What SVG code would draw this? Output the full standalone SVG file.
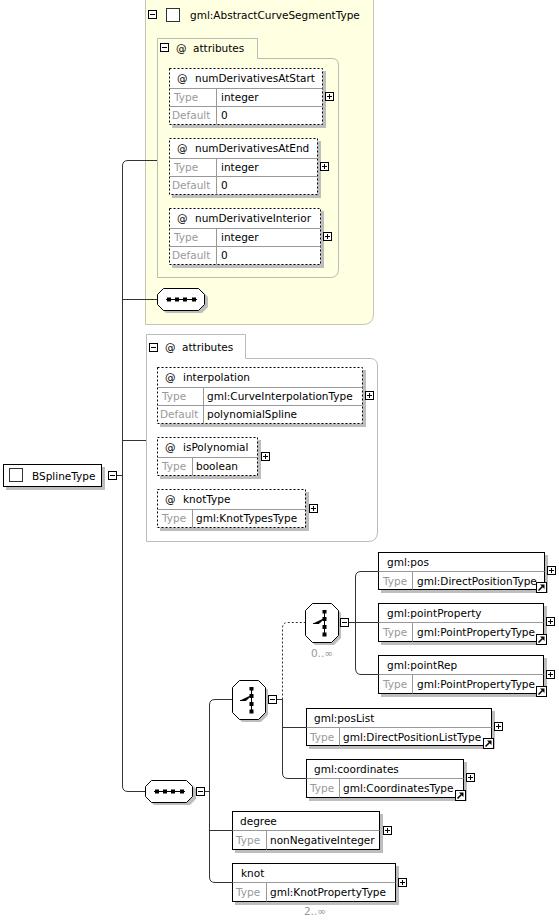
<svg xmlns="http://www.w3.org/2000/svg" width="559" height="921" viewBox="0 0 559 921">
<style>
.t{font-family:"DejaVu Sans","Liberation Sans",sans-serif;font-size:10.5px;fill:#000}
.g{fill:#999}
.box{fill:#fff;stroke:#000}
.dot{fill:#fff;stroke:#000;stroke-dasharray:2,2}
.sh{fill:#bdbdbd}
.sep{stroke:#999;fill:none}
.ln{stroke:#333;fill:none}
.dl{stroke:#333;fill:none;stroke-dasharray:2,2}
.cont{fill:none;stroke:#bbb}
</style>
<defs>
<g id="plus"><rect x="0.5" y="0.5" width="8" height="8" fill="#fff" stroke="#000"/><path d="M2,4.5H7M4.5,2V7" stroke="#000"/></g>
<g id="minus"><rect x="0.5" y="0.5" width="8" height="8" fill="#fff" stroke="#000"/><path d="M2,4.5H7" stroke="#000"/></g>
<g id="jump"><rect x="0.5" y="0.5" width="10" height="10" fill="#fff" stroke="#000"/><path d="M2.5,8.5L6.5,4.5" stroke="#000" stroke-width="1.6"/><path d="M4,2.5H8.5V7Z" fill="#000"/></g>
<g id="seq">
<polygon class="sh" points="9,3 45,3 51,9 51,19 45,25 9,25 3,19 3,9"/>
<polygon class="box" points="6.5,0.5 41.5,0.5 47.5,6.5 47.5,16.5 41.5,22.5 6.5,22.5 0.5,16.5 0.5,6.5"/>
<path d="M9,11.5H40" stroke="#000"/>
<rect x="10" y="9.5" width="4" height="4"/><rect x="18" y="9.5" width="4" height="4"/><rect x="26" y="9.5" width="4" height="4"/><rect x="35" y="9.5" width="4" height="4"/>
</g>
<g id="choice">
<polygon class="sh" points="10,3 29,3 36,10 36,35 29,42 10,42 3,35 3,10"/>
<polygon class="box" points="7.5,0.5 26.5,0.5 33.5,7.5 33.5,32.5 26.5,39.5 7.5,39.5 0.5,32.5 0.5,7.5"/>
<path d="M19.5,8V33" stroke="#000"/>
<rect x="17.5" y="7" width="4" height="3.5"/><rect x="17.5" y="14" width="4" height="4"/><rect x="17.5" y="22" width="4" height="4"/><rect x="17.5" y="29.5" width="4" height="4"/>
<path d="M8,20.5H14L19.5,15" stroke="#000"/>
</g>
</defs>

<g id="abstract-base">
<path d="M145.5,-5H373.5V314Q373.5,324.5 363,324.5H145.5Z" fill="#ffffe1" stroke="#c4c4b4"/>
<use href="#minus" x="148" y="10"/>
<rect x="166.5" y="8.5" width="13" height="13" fill="#fff" stroke="#333"/>
<text class="t" x="190" y="19">gml:AbstractCurveSegmentType</text>
</g>

<g id="connectors">
<path class="ln" d="M157,160.5H128Q122.5,160.5 122.5,166V786Q122.5,791.5 128,791.5H145"/>
<path class="ln" d="M117,475.5H122.5"/>
<path class="ln" d="M122.5,299.5H157"/>
<path class="ln" d="M122.5,440.5H146"/>
<path class="ln" d="M205,791.5H209.5"/>
<path class="ln" d="M232,699.5H215Q209.5,699.5 209.5,705V877Q209.5,882.5 215,882.5H232"/>
<path class="ln" d="M209.5,830.5H232"/>
<path class="ln" d="M277,699.5H282.5"/>
<path class="dl" d="M282.5,699.5V628Q282.5,622.5 288,622.5H305"/>
<path class="ln" d="M282.5,699.5V773Q282.5,778.5 288,778.5H306"/>
<path class="ln" d="M282.5,727.5H306"/>
<path class="ln" d="M349,622.5H355.5"/>
<path class="ln" d="M378,571.5H361Q355.5,571.5 355.5,577V668Q355.5,674.5 361,674.5H378"/>
<path class="ln" d="M355.5,622.5H378"/>
</g>

<g id="attributes1">
<path class="cont" d="M157.5,38.5H257.5V58.5H332Q338.5,58.5 338.5,65V269Q338.5,277.5 330,277.5H157.5Z"/>
<use href="#minus" x="160" y="43"/>
<text class="t" x="176" y="52">@</text>
<text class="t" x="193" y="52">attributes</text>
</g>

<g id="numDerivativesAtStart">
<rect class="sh" x="172" y="71" width="154" height="57"/>
<rect class="dot" x="169.5" y="68.5" width="153" height="56"/>
<path class="sep" d="M169.5,88.5H322.5M169.5,106.5H322.5M216.5,88.5V124.5"/>
<text class="t" x="177" y="82">@</text><text class="t" x="195" y="82">numDerivativesAtStart</text>
<text class="t g" x="174" y="101">Type</text><text class="t" x="221" y="101">integer</text>
<text class="t g" x="172" y="119">Default</text><text class="t" x="221" y="119">0</text>
<use href="#plus" x="325" y="92"/>
</g>

<g id="numDerivativesAtEnd">
<rect class="sh" x="172" y="141" width="149" height="57"/>
<rect class="dot" x="169.5" y="138.5" width="148" height="56"/>
<path class="sep" d="M169.5,158.5H317.5M169.5,176.5H317.5M216.5,158.5V194.5"/>
<text class="t" x="177" y="152">@</text><text class="t" x="195" y="152">numDerivativesAtEnd</text>
<text class="t g" x="174" y="171">Type</text><text class="t" x="221" y="171">integer</text>
<text class="t g" x="172" y="189">Default</text><text class="t" x="221" y="189">0</text>
<use href="#plus" x="320" y="162"/>
</g>

<g id="numDerivativeInterior">
<rect class="sh" x="172" y="211" width="152" height="57"/>
<rect class="dot" x="169.5" y="208.5" width="151" height="56"/>
<path class="sep" d="M169.5,228.5H320.5M169.5,246.5H320.5M216.5,228.5V264.5"/>
<text class="t" x="177" y="222">@</text><text class="t" x="195" y="222">numDerivativeInterior</text>
<text class="t g" x="174" y="241">Type</text><text class="t" x="221" y="241">integer</text>
<text class="t g" x="172" y="259">Default</text><text class="t" x="221" y="259">0</text>
<use href="#plus" x="323" y="232"/>
</g>

<g id="sequence1"><use href="#seq" x="157" y="288"/></g>

<g id="attributes2">
<path class="cont" d="M146.5,334.5H245.5V358.5H370Q377.5,358.5 377.5,366V532Q377.5,541.5 368,541.5H146.5Z"/>
<use href="#minus" x="149" y="343"/>
<text class="t" x="165" y="351">@</text>
<text class="t" x="182" y="351">attributes</text>
</g>

<g id="interpolation">
<rect class="sh" x="160" y="370" width="206" height="57"/>
<rect class="dot" x="157.5" y="367.5" width="205" height="56"/>
<path class="sep" d="M157.5,387.5H362.5M157.5,405.5H362.5M203.5,387.5V423.5"/>
<text class="t" x="165" y="381">@</text><text class="t" x="183" y="381">interpolation</text>
<text class="t g" x="162" y="400">Type</text><text class="t" x="207" y="400">gml:CurveInterpolationType</text>
<text class="t g" x="160" y="418">Default</text><text class="t" x="207" y="418">polynomialSpline</text>
<use href="#plus" x="365" y="391"/>
</g>

<g id="isPolynomial">
<rect class="sh" x="160" y="440" width="101" height="39"/>
<rect class="dot" x="157.5" y="437.5" width="100" height="38"/>
<path class="sep" d="M157.5,457.5H257.5M192.5,457.5V475.5"/>
<text class="t" x="165" y="451">@</text><text class="t" x="183" y="451">isPolynomial</text>
<text class="t g" x="162" y="470">Type</text><text class="t" x="196" y="470">boolean</text>
<use href="#plus" x="261" y="452"/>
</g>

<g id="knotType">
<rect class="sh" x="160" y="492" width="149" height="39"/>
<rect class="dot" x="157.5" y="489.5" width="148" height="38"/>
<path class="sep" d="M157.5,509.5H305.5M192.5,509.5V527.5"/>
<text class="t" x="165" y="503">@</text><text class="t" x="183" y="503">knotType</text>
<text class="t g" x="162" y="522">Type</text><text class="t" x="196" y="522">gml:KnotTypesType</text>
<use href="#plus" x="309" y="504"/>
</g>

<g id="BSplineType">
<rect class="sh" x="6" y="467" width="99" height="23"/>
<rect class="box" x="3.5" y="464.5" width="98" height="22"/>
<rect x="9.5" y="468.5" width="13" height="13" fill="#fff" stroke="#333"/>
<text class="t" x="32" y="480">BSplineType</text>
<use href="#minus" x="108" y="471"/>
</g>

<g id="sequence2"><use href="#seq" x="145" y="780"/><use href="#minus" x="196" y="787"/></g>

<g id="choice1"><use href="#choice" x="232" y="680"/><use href="#minus" x="268" y="695"/></g>

<g id="choice2"><use href="#choice" x="305" y="603"/><use href="#minus" x="340" y="618"/>
<text class="t g" x="322" y="657" text-anchor="middle">0..∞</text></g>

<g id="pos">
<rect class="sh" x="381" y="555" width="167" height="38"/>
<rect class="box" x="378.5" y="552.5" width="166" height="37"/>
<path class="sep" d="M378.5,571.5H544.5M412.5,571.5V589.5"/>
<text class="t" x="387" y="566">gml:pos</text>
<text class="t g" x="383" y="585">Type</text><text class="t" x="417" y="585">gml:DirectPositionType</text>
<use href="#plus" x="547" y="566"/><use href="#jump" x="536" y="582"/>
</g>

<g id="pointProperty">
<rect class="sh" x="381" y="606" width="166" height="39"/>
<rect class="box" x="378.5" y="603.5" width="165" height="38"/>
<path class="sep" d="M378.5,622.5H543.5M412.5,622.5V641.5"/>
<text class="t" x="387" y="617">gml:pointProperty</text>
<text class="t g" x="383" y="636">Type</text><text class="t" x="417" y="636">gml:PointPropertyType</text>
<use href="#plus" x="546" y="617"/><use href="#jump" x="536" y="634"/>
</g>

<g id="pointRep">
<rect class="sh" x="381" y="658" width="166" height="39"/>
<rect class="box" x="378.5" y="655.5" width="165" height="38"/>
<path class="sep" d="M378.5,674.5H543.5M412.5,674.5V693.5"/>
<text class="t" x="387" y="669">gml:pointRep</text>
<text class="t g" x="383" y="688">Type</text><text class="t" x="417" y="688">gml:PointPropertyType</text>
<use href="#plus" x="546" y="670"/><use href="#jump" x="536" y="686"/>
</g>

<g id="posList">
<rect class="sh" x="309" y="711" width="186" height="38"/>
<rect class="box" x="306.5" y="708.5" width="185" height="37"/>
<path class="sep" d="M306.5,727.5H491.5M339.5,727.5V745.5"/>
<text class="t" x="314" y="722">gml:posList</text>
<text class="t g" x="310" y="741">Type</text><text class="t" x="343" y="741">gml:DirectPositionListType</text>
<use href="#plus" x="494" y="722"/><use href="#jump" x="483" y="738"/>
</g>

<g id="coordinates">
<rect class="sh" x="309" y="762" width="158" height="39"/>
<rect class="box" x="306.5" y="759.5" width="157" height="38"/>
<path class="sep" d="M306.5,778.5H463.5M339.5,778.5V797.5"/>
<text class="t" x="314" y="773">gml:coordinates</text>
<text class="t g" x="310" y="792">Type</text><text class="t" x="343" y="792">gml:CoordinatesType</text>
<use href="#plus" x="466" y="773"/><use href="#jump" x="455" y="790"/>
</g>

<g id="degree">
<rect class="sh" x="235" y="814" width="148" height="39"/>
<rect class="box" x="232.5" y="811.5" width="147" height="38"/>
<path class="sep" d="M232.5,830.5H379.5M266.5,830.5V849.5"/>
<text class="t" x="240" y="825">degree</text>
<text class="t g" x="236" y="844">Type</text><text class="t" x="270" y="844">nonNegativeInteger</text>
<use href="#plus" x="383" y="826"/>
</g>

<g id="knot">
<rect class="sh" x="235" y="866" width="164" height="39"/>
<rect class="box" x="232.5" y="863.5" width="163" height="38"/>
<path class="sep" d="M232.5,882.5H395.5M266.5,882.5V901.5"/>
<text class="t" x="241" y="877">knot</text>
<text class="t g" x="236" y="896">Type</text><text class="t" x="270" y="896">gml:KnotPropertyType</text>
<use href="#plus" x="398" y="878"/>
<text class="t g" x="315" y="915" text-anchor="middle">2..∞</text>
</g>
</svg>
